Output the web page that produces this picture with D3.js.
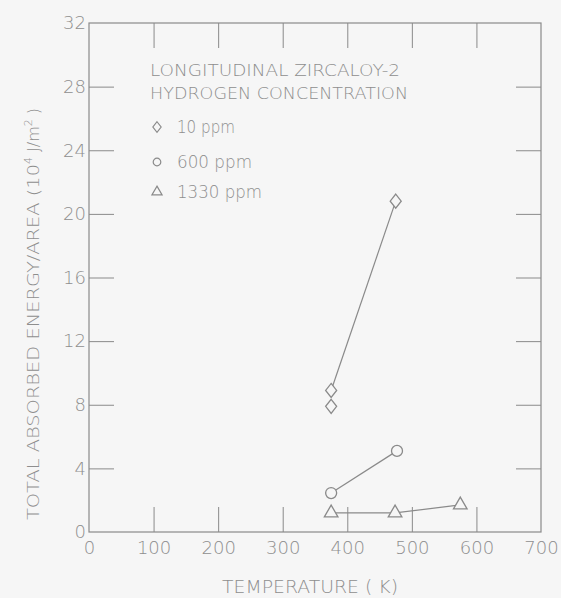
<!DOCTYPE html>
<html>
<head>
<meta charset="utf-8">
<script src="https://cdn.jsdelivr.net/npm/d3@7"></script>
<style>
  html, body { margin: 0; padding: 0; background: #f6f6f6; }
  svg { display: block; }
  text { font-family: "DejaVu Sans", sans-serif; fill: #8e8e8e; font-weight: 200; }
</style>
</head>
<body>
<svg id="chart" width="561" height="598"></svg>
<script>
// Total absorbed energy per unit area vs. test temperature, longitudinal Zircaloy-2
const xTicks = [0, 100, 200, 300, 400, 500, 600, 700];
const yTicks = [0, 4, 8, 12, 16, 20, 24, 28, 32];

const series10ppm = [
  { t: 375, e: 8.9 },
  { t: 475, e: 20.8 }
];
const extra10ppm = [{ t: 375, e: 7.9 }];
const series600ppm = [
  { t: 375, e: 2.45 },
  { t: 477, e: 5.1 }
];
const series1330ppm = [
  { t: 375, e: 1.2 },
  { t: 474, e: 1.2 },
  { t: 575, e: 1.7 }
];

const legendLines = ["LONGITUDINAL  ZIRCALOY-2", "HYDROGEN  CONCENTRATION"];
const legendItems = [
  { sym: "diamond", label: "10 ppm" },
  { sym: "circle", label: "600 ppm" },
  { sym: "triangle", label: "1330 ppm" }
];

const ink = "#8a8a8a";
const svg = d3.select("#chart");
const m = { left: 89, top: 23, right: 541, bottom: 532 };

const x = d3.scaleLinear().domain([0, 700]).range([m.left, m.right]);
const y = d3.scaleLinear().domain([0, 32]).range([m.bottom, m.top]);
const tickLen = 25;

// frame
svg.append("rect")
  .attr("x", m.left).attr("y", m.top)
  .attr("width", m.right - m.left).attr("height", m.bottom - m.top)
  .attr("fill", "none").attr("stroke", ink).attr("stroke-width", 1.2);

// axes with inward ticks on all four sides
const inner = xTicks.filter(d => d > 0 && d < 700);
const innerY = yTicks.filter(d => d > 0 && d < 32);

const bottomAxis = d3.axisBottom(x).tickValues(xTicks).tickSize(-tickLen).tickPadding(9);
const gb = svg.append("g").attr("transform", `translate(0,${m.bottom})`).call(bottomAxis);
gb.selectAll(".tick line").filter(d => !inner.includes(d)).remove();

const leftAxis = d3.axisLeft(y).tickValues(yTicks).tickSize(-tickLen).tickPadding(3);
const gl = svg.append("g").attr("transform", `translate(${m.left},0)`).call(leftAxis);
gl.selectAll(".tick line").filter(d => !innerY.includes(d)).remove();

const topAxis = d3.axisTop(x).tickValues(inner).tickSize(-tickLen).tickFormat("");
svg.append("g").attr("transform", `translate(0,${m.top})`).call(topAxis);
const rightAxis = d3.axisRight(y).tickValues(innerY).tickSize(-tickLen).tickFormat("");
svg.append("g").attr("transform", `translate(${m.right},0)`).call(rightAxis);

svg.selectAll(".domain").remove();
svg.selectAll(".tick line").attr("stroke", ink).attr("stroke-width", 1);
svg.selectAll(".tick text").attr("font-size", 18).attr("fill", "#959595")
  .style("font-family", "\"DejaVu Sans\", sans-serif").style("font-weight", 200);

// axis titles
svg.append("text")
  .attr("x", 222).attr("y", 593)
  .attr("font-size", 17).attr("textLength", 176).attr("lengthAdjust", "spacingAndGlyphs")
  .text("TEMPERATURE ( K)");

const yl = svg.append("text")
  .attr("transform", "translate(39,520) rotate(-90)")
  .attr("font-size", 16);
yl.append("tspan").attr("textLength", 356).attr("lengthAdjust", "spacingAndGlyphs")
  .text("TOTAL  ABSORBED  ENERGY/AREA  (10");
yl.append("tspan").attr("dy", -7).attr("font-size", 11).text("4");
yl.append("tspan").attr("dy", 7).text(" J/m");
yl.append("tspan").attr("dy", -7).attr("font-size", 11).text("2");
yl.append("tspan").attr("dy", 7).text(" )");

// markers
function diamondPath(s) {
  const w = 5.5 * s, h = 7 * s;
  return `M0,${-h}L${w},0L0,${h}L${-w},0Z`;
}
const circlePath = r => d3.symbol().type(d3.symbolCircle).size(Math.PI * r * r)();
const trianglePath = sz => d3.symbol().type(d3.symbolTriangle).size(sz)();

const line = d3.line().x(d => x(d.t)).y(d => y(d.e));
[series10ppm, series600ppm, series1330ppm].forEach(s => {
  svg.append("path").datum(s).attr("d", line)
    .attr("fill", "none").attr("stroke", ink).attr("stroke-width", 1.2);
});

function drawPoints(data, d) {
  svg.selectAll(null).data(data).enter().append("path")
    .attr("transform", p => `translate(${x(p.t)},${y(p.e)})`)
    .attr("d", d)
    .attr("fill", "#f6f6f6").attr("stroke", ink).attr("stroke-width", 1.3);
}
drawPoints(series10ppm.concat(extra10ppm), diamondPath(1));
drawPoints(series600ppm, circlePath(5.5));
drawPoints(series1330ppm, trianglePath(80));

// legend
const lg = svg.append("g");
const lineLens = [250, 258];
legendLines.forEach((t, i) => {
  lg.append("text").attr("x", 150).attr("y", 76 + i * 23)
    .attr("font-size", 15).attr("textLength", lineLens[i]).attr("lengthAdjust", "spacingAndGlyphs")
    .text(t);
});
const rowY = [127, 162, 192];
const labelLens = [58, 75, 85];
legendItems.forEach((it, i) => {
  const yy = rowY[i];
  const d = it.sym === "diamond" ? diamondPath(0.75) : it.sym === "circle" ? circlePath(3.8) : trianglePath(45);
  lg.append("path")
    .attr("transform", `translate(157,${yy})`)
    .attr("d", d)
    .attr("fill", "none").attr("stroke", ink).attr("stroke-width", 1.2);
  lg.append("text").attr("x", 177).attr("y", yy + 6)
    .attr("font-size", 17).attr("textLength", labelLens[i]).attr("lengthAdjust", "spacingAndGlyphs")
    .text(it.label);
});
</script>
</body>
</html>
